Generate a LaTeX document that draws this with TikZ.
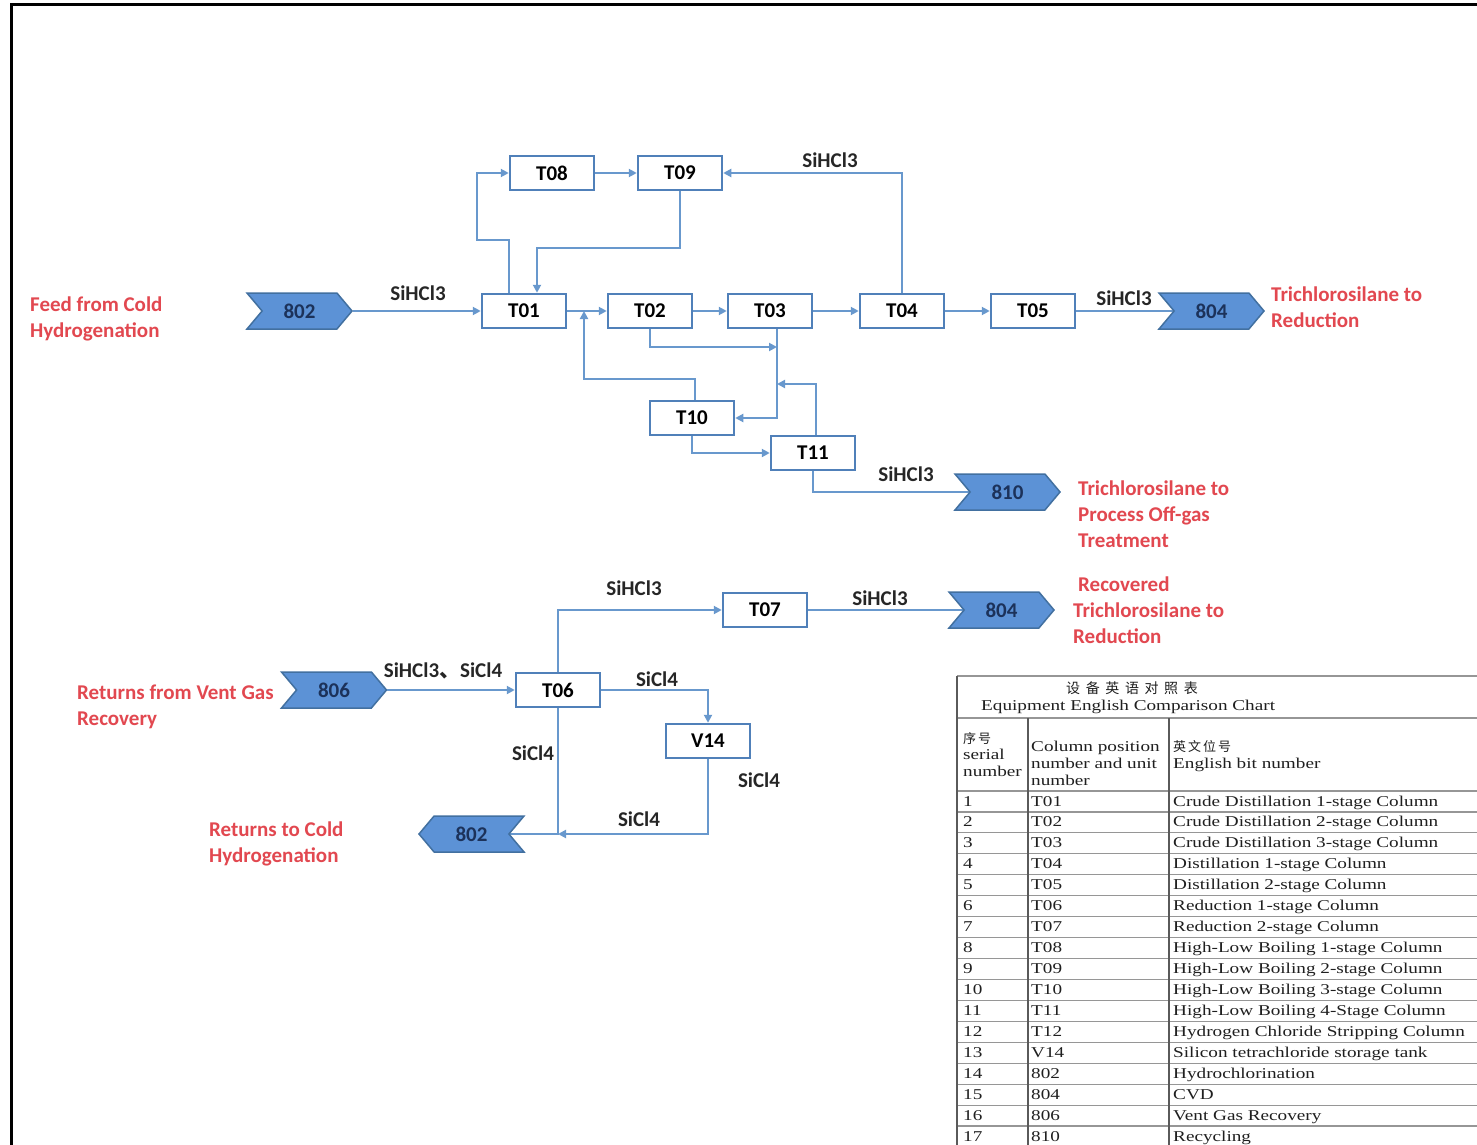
\documentclass[tikz,border=0pt]{standalone}
\usepackage{fontspec}
\setmainfont{Carlito}
\newfontfamily\tabfont[FakeStretch=1.28]{Liberation Serif}
\newfontfamily\cjkfont{Noto Sans CJK SC}
\usetikzlibrary{arrows.meta,shapes.symbols,backgrounds,calc}
\definecolor{linec}{RGB}{104,152,205}
\definecolor{boxc}{RGB}{80,128,185}
\definecolor{chevfill}{RGB}{92,146,214}
\definecolor{chevdraw}{RGB}{66,112,160}
\definecolor{chevtext}{RGB}{28,50,90}
\definecolor{redc}{RGB}{226,72,80}
\definecolor{gridc}{RGB}{150,150,150}
\definecolor{gridd}{RGB}{90,90,90}
\begin{document}
\begin{tikzpicture}[x=1pt,y=-1pt,
  box/.style={draw=boxc,line width=2.5pt,fill=white,minimum width=84pt,minimum height=34pt,inner sep=0pt,font=\fontsize{21}{24}\selectfont\bfseries},
  chev/.style={shape=signal,signal from=west,signal to=east,signal pointer angle=100,draw=chevdraw,line width=1.5pt,fill=chevfill,minimum width=105pt,minimum height=36pt,inner sep=0pt,text=chevtext,font=\fontsize{21}{24}\selectfont\bfseries},
  chevl/.style={chev,signal from=east,signal to=west},
  conn/.style={draw=linec,line width=2.3pt},
  arr/.style={conn,-{Triangle[length=8pt,width=8pt]}},
  flow/.style={font=\fontsize{21}{24}\selectfont\bfseries,text=black!85,inner sep=0pt},
  note/.style={font=\fontsize{21}{26}\selectfont\bfseries,text=redc,align=left,inner sep=0pt,anchor=north west},
  tab/.style={font=\tabfont\fontsize{15}{17}\selectfont,inner sep=0pt,anchor=base west,text=black!88},
  cjk/.style={font=\cjkfont\fontsize{13}{15}\selectfont\addfontfeatures{LetterSpace=15},inner sep=0pt,anchor=base west,text=black!88},
]
\useasboundingbox (0,0) rectangle (1477,1145);
\begin{scope}[on background layer]
\fill[white] (0,0) rectangle (1477,1145);
\end{scope}
\draw[line width=3pt,black] (11,1150) -- (11,5) -- (1480,5);

% ---- boxes
\node[box] (T08) at (552,173) {T08};
\node[box] (T09) at (680,173) {T09};
\node[box] (T01) at (524,311) {T01};
\node[box] (T02) at (650,311) {T02};
\node[box] (T03) at (770,311) {T03};
\node[box] (T04) at (902,311) {T04};
\node[box] (T05) at (1033,311) {T05};
\node[box] (T10) at (692,418) {T10};
\node[box] (T11) at (813,453) {T11};
\node[box] (T07) at (765,610) {T07};
\node[box] (T06) at (558,690) {T06};
\node[box] (V14) at (708,741) {V14};

% ---- chevrons
\node[chev] (s802a) at (299.5,311) {802};
\node[chev] (s804a) at (1211.5,311) {804};
\node[chev] (s810) at (1007.5,492) {810};
\node[chev] (s804b) at (1001.5,610) {804};
\node[chev] (s806) at (334,690) {806};
\node[chevl] (s802b) at (471.5,834) {802};

% ---- connectors under chevrons
\begin{scope}[on background layer]
\draw[conn] (T05.east) -- (s804a.center);
\draw[conn] (T11.south) |- (s810.center);
\draw[conn] (T07.east) -- (s804b.center);
\draw[conn] (T06.south) |- (s802b.center);
\end{scope}

% ---- connectors
\coordinate (j1) at (777,347);
\coordinate (j2) at (777,384);
\coordinate (j3) at (584,379);
\draw[arr] (s802a.east) -- (T01.west);
\draw[arr] (T01.east) -- (T02.west);
\draw[arr] (T02.east) -- (T03.west);
\draw[arr] (T03.east) -- (T04.west);
\draw[arr] (T04.east) -- (T05.west);
\draw[arr] (T08.east) -- (T09.west);
\draw[arr] ([xshift=-15pt]T01.north) -- ++(0,-53) -- ++(-32,0) |- (T08.west);
\draw[arr] (T09.south) -- ++(0,57) -| ([xshift=13pt]T01.north);
\draw[arr] (T04.north) |- (T09.east);
\draw[arr] (T02.south) |- (j1);
\draw[arr] ([xshift=7pt]T03.south) |- (T10.east);
\draw[arr] ([xshift=3pt]T11.north) |- (j2);
\draw[arr] ([xshift=3pt]T10.north) |- (j3) -- (j3 |- T01.east);
\draw[arr] (T10.south) |- (T11.west);
\draw[arr] (s806.east) -- (T06.west);
\draw[arr] (T06.north) |- (T07.west);
\draw[arr] (T06.east) -| (V14.north);
\draw[arr] (V14.south) |- (T06.south |- s802b.center);

% ---- flow labels
\node[flow] (f1) at (418,293) {SiHCl3};
\node[flow] (f2) at (830,160) {SiHCl3};
\node[flow] (f3) at (1124,298) {SiHCl3};
\node[flow] (f4) at (906,474) {SiHCl3};
\node[flow] (f5) at (634,588) {SiHCl3};
\node[flow] (f6) at (880,598) {SiHCl3};
\node[flow] (f7) at (443,671) {SiHCl3{\cjkfont 、}SiCl4};
\node[flow] (f8) at (657,679) {SiCl4};
\node[flow] (f9) at (533,753) {SiCl4};
\node[flow] (f10) at (759,780) {SiCl4};
\node[flow] (f11) at (639,819) {SiCl4};

% ---- red notes
\node[note] (n1) at (30,297) {Feed from Cold\\Hydrogenation};
\node[note] (n2) at (1271,287) {Trichlorosilane to\\Reduction};
\node[note] (n3) at (1078,481) {Trichlorosilane to\\Process Off-gas\\Treatment};
\node[note] (n4) at (1073,577) {\hspace*{5pt}Recovered\\Trichlorosilane to\\Reduction};
\node[note] (n5) at (77,685) {Returns from Vent Gas\\Recovery};
\node[note] (n6) at (209,822) {Returns to Cold\\Hydrogenation};

% ---- table
\draw[gridc,line width=1.2pt] (957,676) -- (1480,676);
\draw[gridc,line width=1.2pt] (957,718) -- (1480,718);
\foreach \k in {0,...,16} {
  \pgfmathsetmacro\yy{791+20.94*\k}
  \draw[gridc,line width=1.2pt] (957,\yy) -- (1480,\yy);
}
\draw[gridd,line width=1.8pt] (957,676) -- (957,1150);
\draw[gridd,line width=1.5pt] (1028,718) -- (1028,1150);
\draw[gridd,line width=1.5pt] (1169,718) -- (1169,1150);

\node[cjk,anchor=base,font=\cjkfont\fontsize{14}{16}\selectfont\addfontfeatures{LetterSpace=40}] (h0) at (1132,693) {设备英语对照表};
\node[tab] (h1) at (981,710) {Equipment English Comparison Chart};
\node[cjk] (h2) at (963,743) {序号};
\node[tab] (h3) at (963,759) {serial};
\node[tab] (h4) at (963,776) {number};
\node[tab] (h5) at (1031,751) {Column position};
\node[tab] (h6) at (1031,768) {number and unit};
\node[tab] (h7) at (1031,785) {number};
\node[cjk] (h8) at (1173,751) {英文位号};
\node[tab] (h9) at (1173,768) {English bit number};

\foreach \n/\c/\d [count=\i from 0] in {
 1/T01/Crude Distillation 1-stage Column,
 2/T02/Crude Distillation 2-stage Column,
 3/T03/Crude Distillation 3-stage Column,
 4/T04/Distillation 1-stage Column,
 5/T05/Distillation 2-stage Column,
 6/T06/Reduction 1-stage Column,
 7/T07/Reduction 2-stage Column,
 8/T08/High-Low Boiling 1-stage Column,
 9/T09/High-Low Boiling 2-stage Column,
 10/T10/High-Low Boiling 3-stage Column,
 11/T11/High-Low Boiling 4-Stage Column,
 12/T12/Hydrogen Chloride Stripping Column,
 13/V14/Silicon tetrachloride storage tank,
 14/802/Hydrochlorination,
 15/804/CVD,
 16/806/Vent Gas Recovery,
 17/810/Recycling} {
  \pgfmathsetmacro\yy{806+20.94*\i}
  \node[tab] (ra\n) at (963,\yy) {\n};
  \node[tab] (rb\n) at (1031,\yy) {\c};
  \node[tab] (rc\n) at (1173,\yy) {\d};
}
\end{tikzpicture}
\end{document}
